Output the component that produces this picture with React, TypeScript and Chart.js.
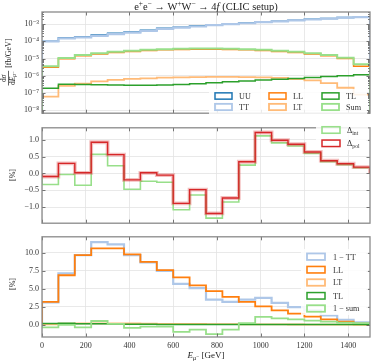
import React, { useEffect, useRef } from "react";
import { Chart, registerables } from "chart.js";
Chart.register(...registerables);

const SERIF = '"Liberation Serif", "DejaVu Serif", serif';

// ---------- data ----------
const binEdges = [0, 75, 150, 225, 300, 375, 450, 525, 600, 675, 750, 825, 900, 975, 1050, 1125, 1200, 1275, 1350, 1425, 1500];
const xTickValues = [0, 200, 400, 600, 800, 1000, 1200, 1400];
const xTickLabels = ["0", "200", "400", "600", "800", "1000", "1200", "1400"];

// panel 1: dσ/dE [fb/GeV]
const uuRate = [1.03e-4, 1.62e-4, 1.88e-4, 2.37e-4, 2.93e-4, 3.54e-4, 4.38e-4, 5.73e-4, 6.68e-4, 7.69e-4, 9.22e-4, 1.033e-3, 1.171e-3, 1.351e-3, 1.495e-3, 1.691e-3, 1.908e-3, 2.128e-3, 2.417e-3, 2.609e-3];
const ttRate = [1.0e-4, 1.5e-4, 1.7e-4, 2.1e-4, 2.6e-4, 3.2e-4, 4.0e-4, 5.3e-4, 6.3e-4, 7.3e-4, 8.9e-4, 1.0e-3, 1.13e-3, 1.3e-3, 1.45e-3, 1.65e-3, 1.87e-3, 2.1e-3, 2.4e-3, 2.6e-3];
const llRate = [3.1e-6, 9.6e-6, 1.47e-5, 1.82e-5, 2.28e-5, 2.56e-5, 2.93e-5, 3.2e-5, 3.4e-5, 3.5e-5, 3.5e-5, 3.4e-5, 3.2e-5, 2.93e-5, 2.56e-5, 2.28e-5, 1.82e-5, 1.46e-5, 1.0e-5, 3.6e-6];
const ltRate = [6e-8, 2.6e-7, 3.5e-7, 4.7e-7, 5.8e-7, 6.5e-7, 7.1e-7, 7.7e-7, 8.0e-7, 8.3e-7, 8.5e-7, 8.5e-7, 8.4e-7, 8.0e-7, 7.4e-7, 6.4e-7, 5.3e-7, 3.7e-7, 2.0e-7, 8e-8];
const tlRate = [1.85e-7, 3.2e-7, 3.1e-7, 3.0e-7, 2.9e-7, 2.8e-7, 2.8e-7, 2.9e-7, 3.1e-7, 3.4e-7, 3.9e-7, 4.5e-7, 5.0e-7, 5.6e-7, 6.2e-7, 7.0e-7, 8.0e-7, 9.0e-7, 1.0e-6, 1.15e-6];
const sumRate = [3.5e-6, 1.07e-5, 1.63e-5, 2.0e-5, 2.5e-5, 2.8e-5, 3.2e-5, 3.5e-5, 3.7e-5, 3.8e-5, 3.8e-5, 3.7e-5, 3.5e-5, 3.2e-5, 2.8e-5, 2.5e-5, 2.0e-5, 1.6e-5, 1.1e-5, 4.7e-6];
const logTickValues = [1e-8, 1e-7, 1e-6, 1e-5, 1e-4, 1e-3];
const logTickLabels = ["10⁻⁸", "10⁻⁷", "10⁻⁶", "10⁻⁵", "10⁻⁴", "10⁻³"];

// panel 2: Δ [%]
const deltaInt = [-0.33, -0.03, -0.35, 0.57, 0.23, -0.47, -0.23, -0.26, -1.08, -0.64, -1.33, -0.85, 0.25, 1.12, 0.91, 0.82, 0.6, 0.35, 0.26, 0.17];
const deltaPol = [-0.09, 0.3, 0.02, 0.93, 0.56, -0.19, 0.02, -0.05, -0.89, -0.48, -1.19, -0.73, 0.35, 1.22, 0.99, 0.87, 0.64, 0.38, 0.29, 0.19];
const midTickValues = [-1, -0.5, 0, 0.5, 1];
const midTickLabels = ["−1.0", "−0.5", "0.0", "0.5", "1.0"];

// panel 3: fractions [%]
const oneMinusTT = [3.1, 7.15, 9.7, 11.5, 11.2, 9.7, 8.7, 7.5, 5.7, 5.1, 3.5, 3.2, 3.5, 3.75, 3.05, 2.45, 2.0, 1.3, 0.7, 0.35];
const llPct = [3.2, 6.9, 9.7, 10.65, 10.65, 9.8, 8.75, 7.6, 6.6, 5.5, 4.7, 3.9, 3.2, 2.55, 2.0, 1.55, 1.15, 0.75, 0.45, 0.15];
const ltPct = [0.06, 0.16, 0.19, 0.2, 0.2, 0.18, 0.16, 0.13, 0.12, 0.11, 0.09, 0.08, 0.07, 0.06, 0.05, 0.04, 0.03, 0.02, 0.01, 0.003];
const tlPct = [0.18, 0.2, 0.16, 0.13, 0.1, 0.08, 0.064, 0.05, 0.046, 0.044, 0.042, 0.044, 0.043, 0.041, 0.041, 0.041, 0.042, 0.042, 0.041, 0.044];
const oneMinusSum = [-0.35, 0.0, -0.35, 0.53, 0.13, -0.44, -0.26, -0.26, -1.0, -0.66, -1.3, -0.66, 0.22, 1.1, 0.88, 0.75, 0.57, 0.44, 0.3, 0.22];
const lowTickValues = [0, 2.5, 5, 7.5, 10];
const lowTickLabels = ["0.0", "2.5", "5.0", "7.5", "10.0"];

// ---------- colours ----------
const C = {
  blue: "#1f77b4", lblue: "#aec7e8", orange: "#ff7f0e", lorange: "#ffbb78",
  green: "#2ca02c", lgreen: "#98df8a", red: "#d62728", redHalo: "rgba(214,39,40,0.3)",
};
const GRID = "#e3e3e3";
const FRAME = "#8a8a8a";
const TEXT = "#333";

// ---------- text helpers ----------
type Seg = { t: string; it?: boolean; sup?: boolean; sub?: boolean };
function segFont(s: Seg, size: number) {
  const sz = s.sup || s.sub ? size * 0.7 : size;
  return `${s.it ? "italic " : ""}${sz}px ${SERIF}`;
}
function richWidth(ctx: CanvasRenderingContext2D, segs: Seg[], size: number) {
  let w = 0;
  for (const s of segs) { ctx.font = segFont(s, size); w += ctx.measureText(s.t).width; }
  return w;
}
function drawRich(ctx: CanvasRenderingContext2D, segs: Seg[], x: number, y: number, size: number, align = "left", color = TEXT) {
  const total = richWidth(ctx, segs, size);
  let cx = align === "center" ? x - total / 2 : align === "right" ? x - total : x;
  ctx.fillStyle = color;
  ctx.textBaseline = "alphabetic";
  ctx.textAlign = "left";
  for (const s of segs) {
    ctx.font = segFont(s, size);
    const dy = s.sup ? -size * 0.38 : s.sub ? size * 0.24 : 0;
    ctx.fillText(s.t, cx, y + dy);
    cx += ctx.measureText(s.t).width;
  }
  return total;
}

const eSub: Seg[] = [{ t: "E", it: true }, { t: "μ", it: true, sub: true }, { t: "⁻", sub: true }];

// ---------- step data ----------
function stepData(vals: number[], base: number) {
  const last = binEdges.length - 1;
  const pts = [{ x: binEdges[0], y: base }];
  vals.forEach((v, i) => pts.push({ x: binEdges[i], y: v }));
  pts.push({ x: binEdges[last], y: vals[vals.length - 1] });
  pts.push({ x: binEdges[last], y: base });
  return pts;
}
function ds(label: string, vals: number[], base: number, color: string, width: number, idx: number) {
  return {
    label, data: stepData(vals, base), borderColor: color, backgroundColor: color,
    borderWidth: width, pointRadius: 0, stepped: "before" as const, fill: false, order: -idx,
    borderJoinStyle: "miter" as const, borderCapStyle: "butt" as const,
  };
}

type LegendEntry = { segs: Seg[]; color: string; lw: number; bx: number; by: number };

function framePlugin(offsetTop: number, opts: {
  log?: boolean; legend: LegendEntry[]; legendBg: [number, number, number, number];
  boxW: number; boxH: number; textDx: number; extra?: (ctx: CanvasRenderingContext2D, chart: any) => void;
}) {
  return {
    id: "frame",
    afterDatasetsDraw(chart: any) {
      const ctx: CanvasRenderingContext2D = chart.ctx;
      const a = chart.chartArea;
      const xs = chart.scales.x, ys = chart.scales.y;
      ctx.save();
      // inward ticks
      ctx.strokeStyle = "#555";
      ctx.lineWidth = 0.8;
      ctx.beginPath();
      for (const v of xTickValues) {
        const px = Math.round(xs.getPixelForValue(v)) + 0.5;
        ctx.moveTo(px, a.bottom); ctx.lineTo(px, a.bottom - 3.5);
        ctx.moveTo(px, a.top); ctx.lineTo(px, a.top + 3.5);
      }
      for (const t of ys.ticks) {
        const py = Math.round(ys.getPixelForValue(t.value)) + 0.5;
        ctx.moveTo(a.left, py); ctx.lineTo(a.left + 3.5, py);
        ctx.moveTo(a.right, py); ctx.lineTo(a.right - 3.5, py);
      }
      if (opts.log) {
        for (let d = -9; d <= -2; d++) {
          for (let k = 2; k <= 9; k++) {
            const v = k * Math.pow(10, d);
            if (v < ys.min || v > ys.max) continue;
            const py = Math.round(ys.getPixelForValue(v)) + 0.5;
            ctx.moveTo(a.left, py); ctx.lineTo(a.left + 2, py);
            ctx.moveTo(a.right, py); ctx.lineTo(a.right - 2, py);
          }
        }
      }
      ctx.stroke();
      // frame
      ctx.strokeStyle = FRAME;
      ctx.lineWidth = 1.3;
      ctx.strokeRect(a.left, a.top, a.right - a.left, a.bottom - a.top);
      // legend
      const [lx, ly, lw, lh] = opts.legendBg;
      ctx.fillStyle = "rgba(255,255,255,0.85)";
      ctx.fillRect(lx, ly - offsetTop, lw, lh);
      for (const e of opts.legend) {
        const by = e.by - offsetTop;
        ctx.strokeStyle = e.color;
        ctx.lineWidth = e.lw;
        ctx.strokeRect(e.bx, by - opts.boxH / 2, opts.boxW, opts.boxH);
        drawRich(ctx, e.segs, e.bx + opts.textDx, by + 2.8, 8.2, "left", TEXT);
      }
      if (opts.extra) opts.extra(ctx, chart);
      ctx.restore();
    },
  };
}

function baseScales(yType: string, yMin: number, yMax: number, yTicks: number[], yLabels: string[], showX: boolean, xHeight: number) {
  return {
    x: {
      type: "linear", min: 0, max: 1500,
      afterBuildTicks: (s: any) => { s.ticks = xTickValues.map((v) => ({ value: v })); },
      ticks: {
        display: showX, padding: 4, color: TEXT, font: { family: SERIF, size: 8 },
        callback: (_v: any, i: number) => xTickLabels[i],
        maxRotation: 0, autoSkip: false,
      },
      grid: { color: GRID, lineWidth: 0.8, drawTicks: false },
      border: { display: false },
      afterFit: (s: any) => { s.height = xHeight; },
    },
    y: {
      type: yType, min: yMin, max: yMax,
      afterBuildTicks: (s: any) => { s.ticks = yTicks.map((v) => ({ value: v })); },
      ticks: {
        padding: 3, color: TEXT, font: { family: SERIF, size: 8 },
        callback: (_v: any, i: number) => yLabels[i], autoSkip: false,
      },
      grid: { color: GRID, lineWidth: 0.8, drawTicks: false },
      border: { display: false },
      afterFit: (s: any) => { s.width = 42; },
    },
  };
}

const commonOpts = {
  responsive: false, animation: false as const, events: [] as any[],
  plugins: { legend: { display: false }, tooltip: { enabled: false }, title: { display: false } },
};

function makeTop() {
  const top = 0;
  return {
    type: "line",
    data: {
      datasets: [
        ds("UU", uuRate, 1e-12, C.blue, 1.5, 0),
        ds("TT", ttRate, 1e-12, C.lblue, 2.2, 1),
        ds("LL", llRate, 1e-12, C.orange, 1.5, 2),
        ds("LT", ltRate, 1e-12, C.lorange, 1.8, 3),
        ds("TL", tlRate, 1e-12, C.green, 1.5, 4),
        ds("Sum", sumRate, 1e-12, C.lgreen, 2.0, 5),
      ],
    },
    options: {
      ...commonOpts,
      layout: { padding: { top: 12, bottom: 1, left: 0, right: 4 } },
      scales: baseScales("logarithmic", 6.6e-9, 5.1e-3, logTickValues, logTickLabels, false, 0),
    },
    plugins: [framePlugin(top, {
      log: true,
      legendBg: [209, 89, 158, 25],
      boxW: 17, boxH: 6.3, textDx: 24,
      legend: [
        { segs: [{ t: "UU" }], color: C.blue, lw: 1.5, bx: 215, by: 96 },
        { segs: [{ t: "TT" }], color: C.lblue, lw: 1.8, bx: 215, by: 107 },
        { segs: [{ t: "LL" }], color: C.orange, lw: 1.5, bx: 269, by: 96 },
        { segs: [{ t: "LT" }], color: C.lorange, lw: 1.8, bx: 269, by: 107 },
        { segs: [{ t: "TL" }], color: C.green, lw: 1.5, bx: 322, by: 96 },
        { segs: [{ t: "Sum" }], color: C.lgreen, lw: 1.8, bx: 322, by: 107 },
      ],
      extra: (ctx) => {
        // title
        drawRich(ctx, [
          { t: "e" }, { t: "+", sup: true }, { t: "e" }, { t: "−", sup: true }, { t: " → W" },
          { t: "+", sup: true }, { t: "W" }, { t: "−", sup: true }, { t: " → 4" }, { t: "f", it: true },
          { t: " (CLIC setup)" },
        ], 206, 9.5, 10.5, "center", "#222");
        // y label (rotated)
        ctx.save();
        ctx.translate(8, 62);
        ctx.rotate(-Math.PI / 2);
        const num: Seg[] = [{ t: "d" }, { t: "σ", it: true }];
        const den: Seg[] = [{ t: "d" }, ...eSub];
        const br: Seg[] = [{ t: "[fb/GeV]" }];
        const fs = 7.5;
        const fw = Math.max(richWidth(ctx, num, fs), richWidth(ctx, den, fs)) + 1;
        const bw = richWidth(ctx, br, 8);
        const total = fw + 3 + bw;
        const x0 = -total / 2;
        drawRich(ctx, num, x0 + fw / 2, -2, fs, "center", "#222");
        drawRich(ctx, den, x0 + fw / 2, 6.5, fs, "center", "#222");
        ctx.strokeStyle = "#222"; ctx.lineWidth = 0.7;
        ctx.beginPath(); ctx.moveTo(x0, 0.5); ctx.lineTo(x0 + fw, 0.5); ctx.stroke();
        drawRich(ctx, br, x0 + fw + 3, 3.2, 8, "left", "#222");
        ctx.restore();
      },
    })],
  };
}

function makeMid() {
  const top = 120;
  return {
    type: "line",
    data: {
      datasets: [
        ds("Δint", deltaInt, 0, C.lgreen, 1.6, 0),
        ds("halo", deltaPol, 0, C.redHalo, 3.8, 1),
        ds("Δpol", deltaPol, 0, C.red, 1.4, 2),
      ],
    },
    options: {
      ...commonOpts,
      layout: { padding: { top: 1, bottom: 1, left: 0, right: 4 } },
      scales: baseScales("linear", -1.48, 1.36, midTickValues, midTickLabels, false, 0),
    },
    plugins: [framePlugin(top, {
      legendBg: [316, 123, 52, 27],
      boxW: 18, boxH: 6.5, textDx: 25,
      legend: [
        { segs: [{ t: "Δ" }, { t: "int", sub: true }], color: C.lgreen, lw: 1.6, bx: 322, by: 130 },
        { segs: [{ t: "Δ" }, { t: "pol", sub: true }], color: C.red, lw: 1.5, bx: 322, by: 143.3 },
      ],
      extra: (ctx) => {
        ctx.save();
        ctx.translate(12, 175 - top);
        ctx.rotate(-Math.PI / 2);
        drawRich(ctx, [{ t: "[%]" }], 0, 2.8, 8, "center", "#222");
        ctx.restore();
      },
    })],
  };
}

function makeLow() {
  const top = 229;
  return {
    type: "line",
    data: {
      datasets: [
        ds("1-TT", oneMinusTT, 0, C.lblue, 2.2, 0),
        ds("LL", llPct, 0, C.orange, 1.8, 1),
        ds("LT", ltPct, 0, C.lorange, 1.8, 2),
        ds("TL", tlPct, 0, C.green, 1.5, 3),
        ds("1-sum", oneMinusSum, 0, C.lgreen, 1.8, 4),
      ],
    },
    options: {
      ...commonOpts,
      layout: { padding: { top: 1, bottom: 0, left: 0, right: 4 } },
      scales: baseScales("linear", -1.7, 12.25, lowTickValues, lowTickLabels, true, 25),
    },
    plugins: [framePlugin(top, {
      legendBg: [301, 249, 67, 66],
      boxW: 18, boxH: 6.5, textDx: 26,
      legend: [
        { segs: [{ t: "1 − TT" }], color: C.lblue, lw: 1.8, bx: 307, by: 256.7 },
        { segs: [{ t: "LL" }], color: C.orange, lw: 1.6, bx: 307, by: 269.7 },
        { segs: [{ t: "LT" }], color: C.lorange, lw: 1.8, bx: 307, by: 282.5 },
        { segs: [{ t: "TL" }], color: C.green, lw: 1.5, bx: 307, by: 295.8 },
        { segs: [{ t: "1 − sum" }], color: C.lgreen, lw: 1.8, bx: 307, by: 308.5 },
      ],
      extra: (ctx) => {
        ctx.save();
        ctx.translate(12, 284 - top);
        ctx.rotate(-Math.PI / 2);
        drawRich(ctx, [{ t: "[%]" }], 0, 2.8, 8, "center", "#222");
        ctx.restore();
        drawRich(ctx, [...eSub, { t: " [GeV]" }], 206, 358 - top, 9, "center", "#222");
      },
    })],
  };
}

function Panel({ top, height, make }: { top: number; height: number; make: () => any }) {
  const ref = useRef<HTMLCanvasElement>(null);
  useEffect(() => {
    const chart = new Chart(ref.current as HTMLCanvasElement, make());
    return () => chart.destroy();
  }, []);
  return (
    <canvas ref={ref} width={374} height={height}
      style={{ position: "absolute", left: 0, top, width: 374, height, display: "block" }} />
  );
}

export default function App() {
  return (
    <div style={{ position: "fixed", left: 0, top: 0, width: 374, height: 362, background: "#fff", overflow: "hidden" }}>
      <Panel top={0} height={121} make={makeTop} />
      <Panel top={120} height={111} make={makeMid} />
      <Panel top={229} height={133} make={makeLow} />
    </div>
  );
}
